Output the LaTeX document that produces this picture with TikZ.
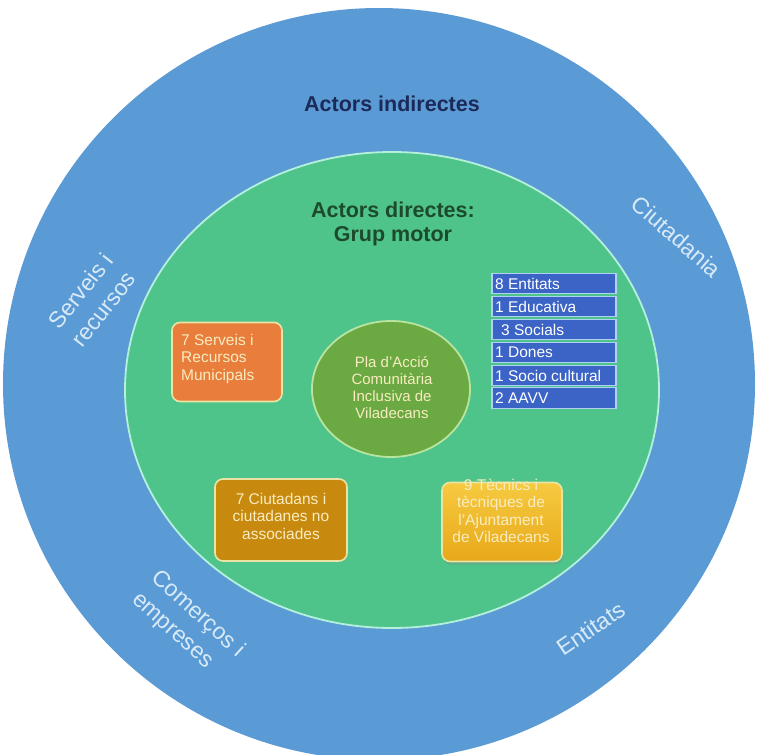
\documentclass[tikz,border=0pt]{standalone}
\usepackage{fontspec}
\setmainfont{Liberation Sans}
\usetikzlibrary{shapes.geometric,shadows}
\definecolor{ringblue}{HTML}{5B9BD5}
\definecolor{ringtext}{HTML}{D8EAF8}
\definecolor{innergreen}{HTML}{4EC48B}
\definecolor{innerrim}{HTML}{B4F0DC}
\definecolor{coreolive}{HTML}{6BAA42}
\definecolor{corerim}{HTML}{B8E4A0}
\definecolor{boxorange}{HTML}{E97D3C}
\definecolor{boxbrown}{HTML}{C88A0E}
\definecolor{boxyellowtop}{HTML}{F6CA40}
\definecolor{boxyellowbot}{HTML}{E8A81A}
\definecolor{boxrim}{HTML}{ECE4A4}
\definecolor{boxtext}{HTML}{F8ECC0}
\definecolor{listblue}{HTML}{3B64C6}
\definecolor{listrim}{HTML}{B0D2F2}
\definecolor{navytext}{HTML}{1C2A5A}
\definecolor{darkgreentext}{HTML}{1D4A2C}
\tikzset{
  ringlabel/.style={text=ringtext, font=\fontsize{23}{29}\selectfont, align=left, inner sep=0pt},
  roundbox/.style={draw=boxrim, line width=1.6pt, rounded corners=8pt, inner sep=0pt},
  boxlabel/.style={text=boxtext, font=\fontsize{15.5}{17.5}\selectfont, inner sep=0pt},
  listrow/.style={draw=listrim, line width=1.3pt, fill=listblue, minimum width=124pt, minimum height=20.5pt, inner sep=0pt},
  listlabel/.style={text=white, font=\fontsize{15.5}{17}\selectfont, inner sep=0pt, anchor=west},
}
\begin{document}
\begin{tikzpicture}[x=1pt,y=-1pt]
\useasboundingbox (0,0) rectangle (758,755);
\fill[white] (0,0) rectangle (758,755);
% rings
\node[ellipse, fill=ringblue, minimum width=752pt, minimum height=752pt, inner sep=0pt] (outer) at (379,384) {};
\node[ellipse, fill=innergreen, draw=innerrim, line width=1.8pt, minimum width=534pt, minimum height=476pt, inner sep=0pt] (inner) at (392,390) {};
% titles
\node[text=navytext, font=\fontsize{21.5}{25}\selectfont\bfseries, inner sep=0pt] (indirect) at (392,104) {Actors indirectes};
\node[text=darkgreentext, font=\fontsize{21.5}{24.5}\selectfont\bfseries, align=center, inner sep=0pt] (direct) at (393,224) {Actors directes:\\Grup motor};
% outer ring labels
\node[ringlabel, rotate=52] (serveis) at (92,300) {Serveis i\\recursos};
\node[ringlabel, rotate=-41] (ciutadania) at (676.5,236.5) {Ciutadania};
\node[ringlabel, rotate=-42] (comercos) at (188,625) {Comerços i\\empreses};
\node[ringlabel, rotate=34] (entitats) at (590.5,628.5) {Entitats};
% core
\node[ellipse, fill=coreolive, draw=corerim, line width=1.8pt, minimum width=158pt, minimum height=136pt, inner sep=0pt] (core) at (391,389) {};
\node[text=boxtext, font=\fontsize{15}{17}\selectfont, align=center, inner sep=0pt] (coretext) at (392,388) {Pla d'Acció\\Comunitària\\Inclusiva de\\Viladecans};
% orange box
\node[roundbox, fill=boxorange, minimum width=110pt, minimum height=79pt] (serv) at (227,362) {};
\node[boxlabel, align=left, anchor=north west] (servtext) at (181,334) {7 Serveis i\\Recursos\\Municipals};
% brown box
\node[roundbox, fill=boxbrown, minimum width=132pt, minimum height=82pt] (ciut) at (281,520) {};
\node[boxlabel, align=center] (ciuttext) at (281,516) {7 Ciutadans i\\ciutadanes no\\associades};
% yellow box
\node[roundbox, top color=boxyellowtop, bottom color=boxyellowbot, minimum width=120pt, minimum height=79pt, drop shadow={shadow xshift=1pt, shadow yshift=-3pt, opacity=0.35}] (tec) at (502,522) {};
\node[boxlabel, align=center] (tectext) at (501,511) {9 Tècnics i\\tècniques de\\l'Ajuntament\\de Viladecans};
% entity list
\node[listrow] (r1) at (554,283.5) {};
\node[listrow] (r2) at (554,306.5) {};
\node[listrow] (r3) at (554,329.5) {};
\node[listrow] (r4) at (554,352.5) {};
\node[listrow] (r5) at (554,375.5) {};
\node[listrow] (r6) at (554,398) {};
\node[listlabel] (t1) at (495,283.5) {8 Entitats};
\node[listlabel] (t2) at (495,306.5) {1 Educativa};
\node[listlabel] (t3) at (501,329.5) {3 Socials};
\node[listlabel] (t4) at (495,352.5) {1 Dones};
\node[listlabel] (t5) at (495,375.5) {1 Socio cultural};
\node[listlabel] (t6) at (495,398) {2 AAVV};
\end{tikzpicture}
\end{document}
